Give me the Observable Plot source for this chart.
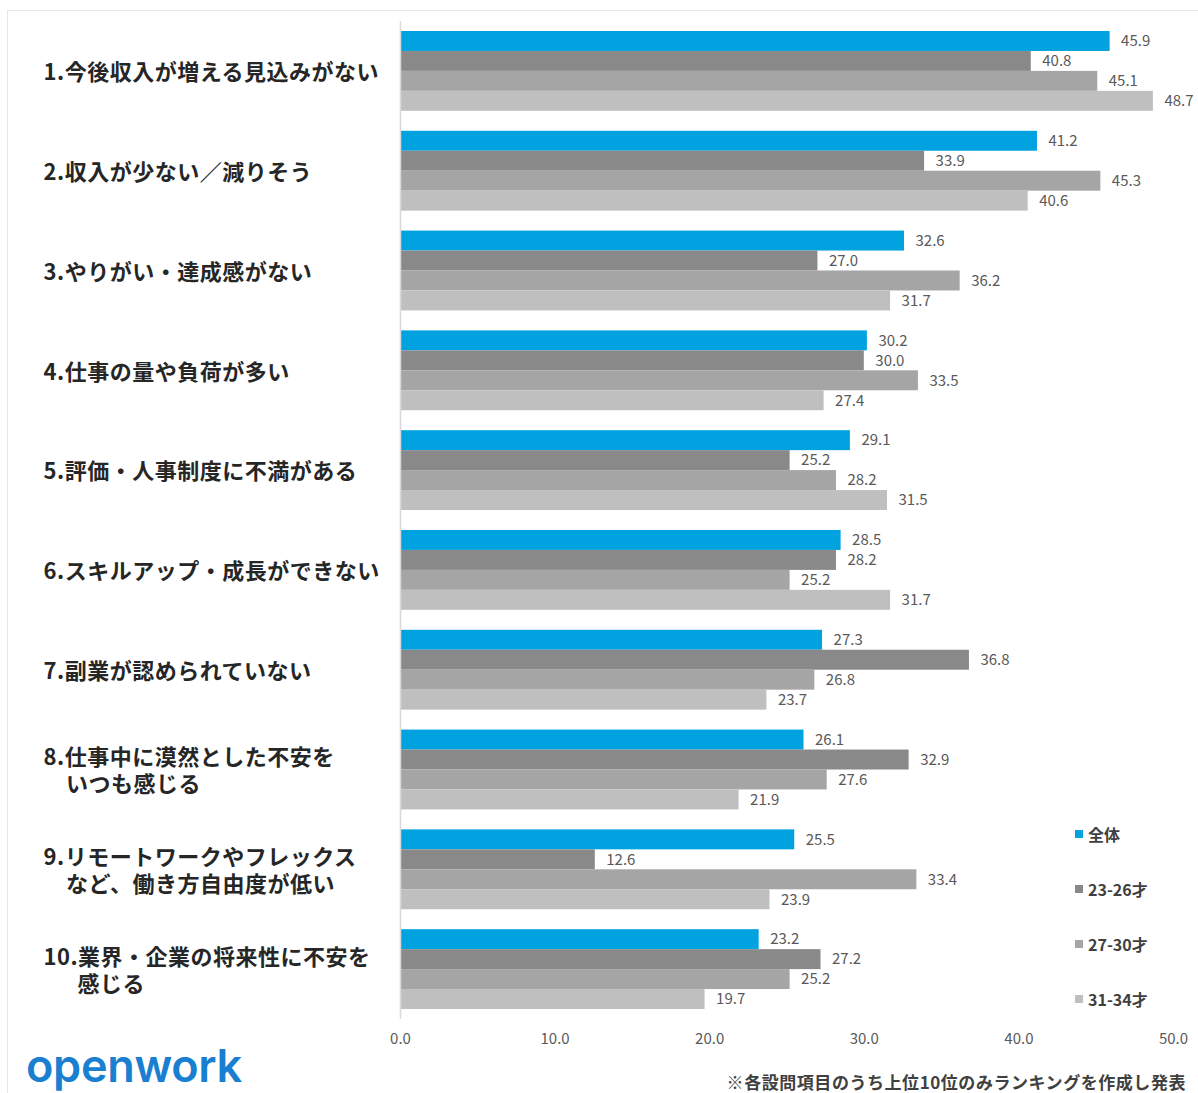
<!DOCTYPE html>
<html>
<head>
<meta charset="utf-8">
<script src="https://cdn.jsdelivr.net/npm/d3@7"></script>
<script src="https://cdn.jsdelivr.net/npm/@observablehq/plot@0.6"></script>
<style>
  html, body { margin: 0; padding: 0; background: #fff; overflow: hidden; }
  #wrap { position: relative; width: 1198px; height: 1093px; font-family: "Noto Sans CJK JP", "Noto Sans", sans-serif; }
  #border { position: absolute; left: 7px; top: 10px; width: 1200px; height: 1100px; border: 1px solid #E3E6EC; box-sizing: border-box; }
  #chart { position: absolute; left: 0; top: 0; }
  .legend { position: absolute; left: 1075px; font-size: 16px; font-weight: 700; color: #404040; display: flex; align-items: center; line-height: 1; }
  .legend i { display: inline-block; width: 8px; height: 8px; margin-right: 5px; }
  #logo { position: absolute; left: 26px; top: 1043px; font-family: Inter, sans-serif; font-weight: 600; font-size: 45px; color: #1A7FD0; letter-spacing: -0.3px; line-height: 1; }
  #note { position: absolute; right: 12px; top: 1073px; font-size: 17px; font-weight: 700; color: #404040; line-height: 1; letter-spacing: 0.55px; }
</style>
</head>
<body>
<div id="wrap">
  <div id="border"></div>
  <div id="chart"></div>
  <div id="legend"></div>
  <div id="logo">openwork</div>
  <div id="note">※各設問項目のうち上位10位のみランキングを作成し発表</div>
</div>
<script>
const categories = [
  "1.今後収入が増える見込みがない",
  "2.収入が少ない／減りそう",
  "3.やりがい・達成感がない",
  "4.仕事の量や負荷が多い",
  "5.評価・人事制度に不満がある",
  "6.スキルアップ・成長ができない",
  "7.副業が認められていない",
  "8.仕事中に漠然とした不安を\n\u3000いつも感じる",
  "9.リモートワークやフレックス\n\u3000など、働き方自由度が低い",
  "10.業界・企業の将来性に不安を\n\u3000\u2002感じる"
];
const seriesNames = ["全体", "23-26才", "27-30才", "31-34才"];
const seriesColors = ["#00A3E0", "#898989", "#A5A5A5", "#BFBFBF"];
const valuesAll   = [45.9, 41.2, 32.6, 30.2, 29.1, 28.5, 27.3, 26.1, 25.5, 23.2];
const values2326  = [40.8, 33.9, 27.0, 30.0, 25.2, 28.2, 36.8, 32.9, 12.6, 27.2];
const values2730  = [45.1, 45.3, 36.2, 33.5, 28.2, 25.2, 26.8, 27.6, 33.4, 25.2];
const values3134  = [48.7, 40.6, 31.7, 27.4, 31.5, 31.7, 23.7, 21.9, 23.9, 19.7];
const xTicks = [0, 10, 20, 30, 40, 50];

const seriesValues = [valuesAll, values2326, values2730, values3134];
const rows = [];
categories.forEach((c, i) => {
  seriesNames.forEach((s, j) => {
    rows.push({cat: c, series: s, value: seriesValues[j][i], key: c + "|" + s});
  });
});
const yDomain = categories.flatMap((c, i) => {
  const keys = seriesNames.map(s => c + "|" + s);
  return i < categories.length - 1 ? [...keys, c + "|gap"] : keys;
});

const plot = Plot.plot({
  width: 1198,
  height: 1093,
  marginLeft: 400,
  marginRight: 25,
  marginTop: 21,
  marginBottom: 74,
  style: {fontFamily: '"Noto Sans CJK JP", "Noto Sans", sans-serif', background: "transparent"},
  x: {domain: [0, 50]},
  y: {domain: yDomain, paddingInner: 0, paddingOuter: 0.5, round: false, axis: null},
  color: {domain: seriesNames, range: seriesColors},
  marks: [
    Plot.barX(rows, {x: "value", y: "key", fill: "series"}),
    Plot.ruleX([0], {stroke: "#D9D9D9", strokeWidth: 1.5}),
    Plot.text(rows, {x: "value", y: "key", text: d => d.value.toFixed(1), textAnchor: "start", dx: 11, fill: "#595959", fontSize: 15}),
    Plot.text(categories, {y: c => c + "|" + seriesNames[1], dy: 10, text: d => d, frameAnchor: "left", dx: -357, textAnchor: "start", fontSize: 22, fontWeight: 700, lineHeight: 1.24, fill: "#262626"}),
    Plot.axisX(xTicks, {tickSize: 0, tickPadding: 14, tickFormat: d => d.toFixed(1), fontSize: 15, fill: "#595959", label: null})
  ]
});
document.getElementById("chart").appendChild(plot);
// slight letter spacing on the bold category labels
plot.querySelectorAll("g[font-weight='700']").forEach(g => g.setAttribute("letter-spacing", "0.5"));

const legendTops = [834, 889, 944, 999];
const legend = document.getElementById("legend");
seriesNames.forEach((s, j) => {
  const d = document.createElement("div");
  d.className = "legend";
  d.style.top = (legendTops[j] - 9) + "px";
  d.style.height = "18px";
  d.innerHTML = `<i style="background:${seriesColors[j]}"></i><span>${s}</span>`;
  legend.appendChild(d);
});
</script>
</body>
</html>
